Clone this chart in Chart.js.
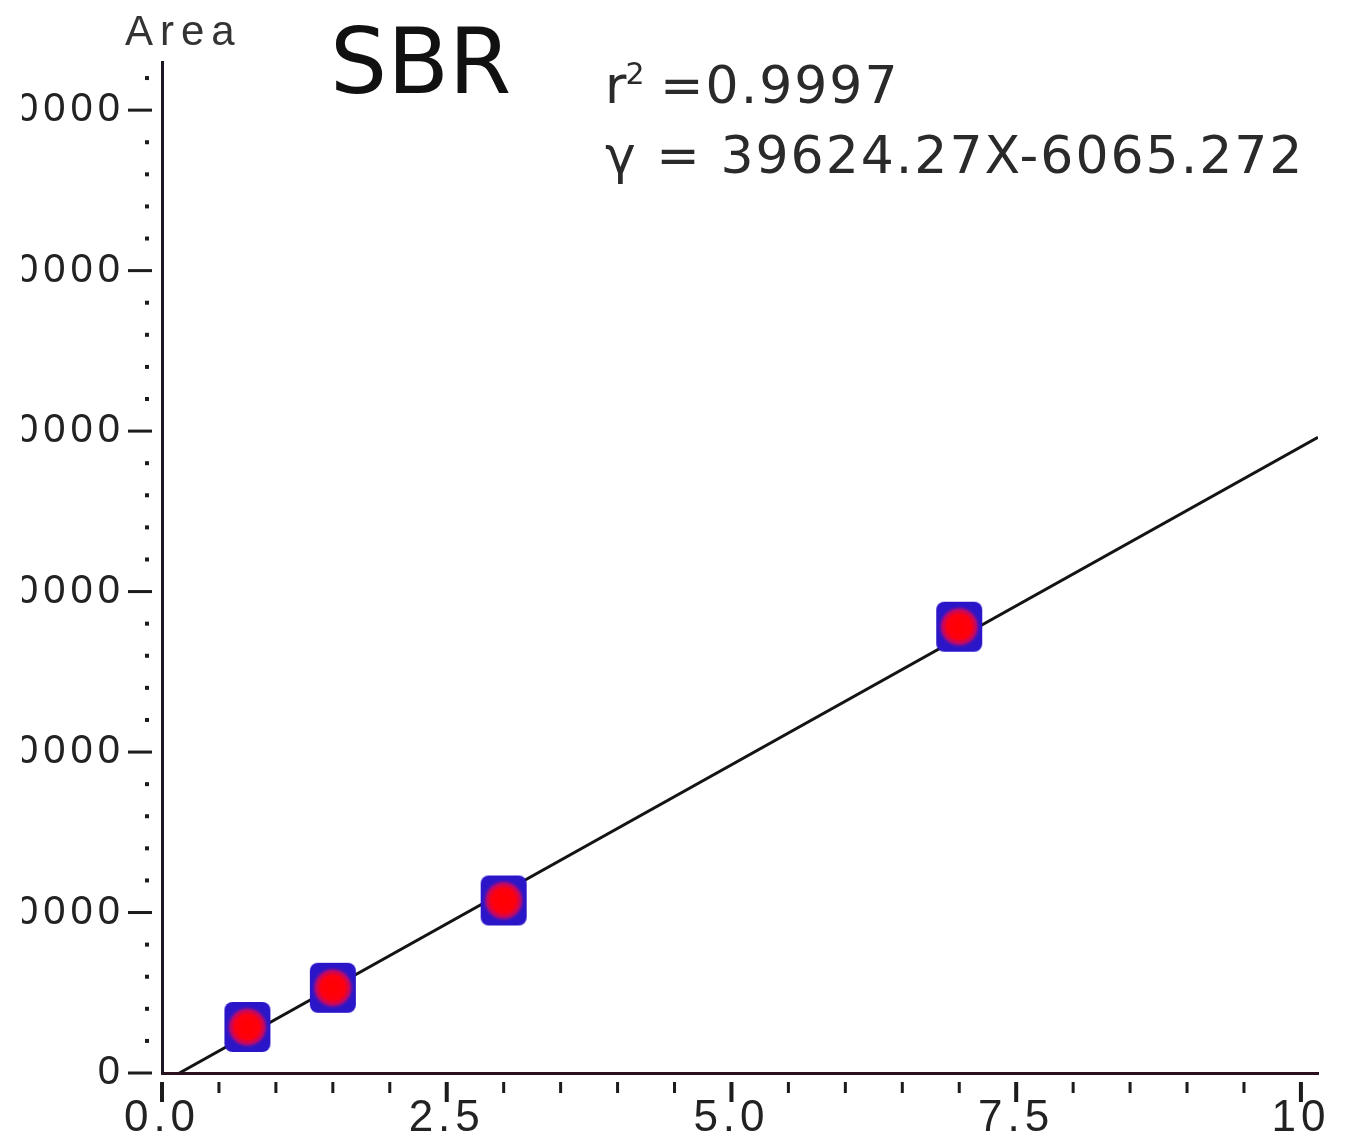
<!DOCTYPE html>
<html>
<head>
<meta charset="utf-8">
<script src="https://cdn.jsdelivr.net/npm/chart.js@4/dist/chart.umd.min.js"></script>
<style>
  html, body { margin: 0; padding: 0; background: #fff; overflow: hidden; }
  #frame { position: absolute; left: 22px; top: 0; width: 1323px; height: 1144px; overflow: hidden; }
  #wrap { position: absolute; left: -82px; top: 0; width: 1405px; height: 1144px; }
</style>
</head>
<body>
<div id="frame"><div id="wrap"><canvas id="chart" width="1405" height="1144"></canvas></div></div>
<script>
// Calibration standards: concentration vs. peak area
const concentrations = [0.75, 1.5, 3.0, 7.0];
const areas = [28700, 53100, 107500, 278100];

// Axis ticks
const xTickValues = [0, 2.5, 5, 7.5, 10];
const xTickLabels = ['0.0', '2.5', '5.0', '7.5', '10'];
const yTickValues = [0, 100000, 200000, 300000, 400000, 500000, 600000];
const xMinorStep = 0.5;
const yMinorStep = 20000;
const xRange = [0, 10.15];
const yRange = [0, 630000];

// Linear fit reported on the plot
const fitSlope = 39624.27;
const fitIntercept = -6065.272;
const rSquared = '0.9997';
const compoundName = 'SBR';
const yAxisName = 'Area';

// Fitted line runs from its zero crossing to the right end of the x range
const fitStart = -fitIntercept / fitSlope;
const fitPoints = [fitStart, xRange[1]].map(x => ({ x: x, y: fitSlope * x + fitIntercept }));

const standardPoints = concentrations.map((c, i) => ({ x: c, y: areas[i] }));

// Marker sprite: blue rounded square with a red dot in the middle
function makeMarker() {
  const w = 48, h = 52;
  const m = document.createElement('canvas');
  m.width = w; m.height = h;
  const g = m.getContext('2d');
  g.fillStyle = '#2a16c8';
  g.beginPath();
  g.roundRect(1, 1, w - 2, h - 2, 8);
  g.fill();
  const grad = g.createRadialGradient(w / 2, h / 2, 0, w / 2, h / 2, 22);
  grad.addColorStop(0, '#ff0000');
  grad.addColorStop(0.55, '#ff0010');
  grad.addColorStop(0.78, '#b80a70');
  grad.addColorStop(1, 'rgba(42,22,200,0)');
  g.fillStyle = grad;
  g.beginPath();
  g.ellipse(w / 2, h / 2, 22, 22, 0, 0, Math.PI * 2);
  g.fill();
  return m;
}
const marker = makeMarker();

// Wider spacing for the axis numbers
const tickSpacing = {
  id: 'tickSpacing',
  beforeDraw(chart) { chart.ctx.letterSpacing = '5px'; },
  afterDraw(chart) { chart.ctx.letterSpacing = '0px'; }
};

// Detached tick marks outside the axis lines
const tickMarks = {
  id: 'tickMarks',
  afterDraw(chart) {
    const ctx = chart.ctx;
    const xs = chart.scales.x, ys = chart.scales.y;
    ctx.save();
    ctx.fillStyle = '#1c1c1c';
    // y axis: dashes at major ticks, dots at minor ones
    const yAxisX = ys.right;
    for (let v = yRange[0]; v <= yRange[1]; v += yMinorStep) {
      const py = ys.getPixelForValue(v);
      if (yTickValues.includes(v)) {
        ctx.fillRect(yAxisX - 34, py - 1.5, 24, 3);
      } else {
        ctx.fillRect(yAxisX - 17, py - 2, 4, 4);
      }
    }
    // x axis: long marks at labelled ticks, short ones between
    const xAxisY = xs.top;
    for (let k = 0; k * xMinorStep <= xRange[1]; k++) {
      const v = k * xMinorStep;
      const px = xs.getPixelForValue(v);
      if (xTickValues.includes(v)) {
        ctx.fillRect(px - 2, xAxisY + 9, 4, 20);
      } else {
        ctx.fillRect(px - 1.5, xAxisY + 9, 3, 11);
      }
    }
    ctx.restore();
  }
};

// Title, axis name and fit summary
const annotations = {
  id: 'annotations',
  afterDraw(chart) {
    const ctx = chart.ctx;
    ctx.save();
    ctx.textAlign = 'left';
    ctx.textBaseline = 'alphabetic';

    ctx.fillStyle = '#333';
    ctx.font = '42px "Liberation Sans", Arial, sans-serif';
    ctx.letterSpacing = '7px';
    ctx.fillText(yAxisName, 185, 45);

    ctx.fillStyle = '#111';
    ctx.font = '90px "DejaVu Sans", sans-serif';
    ctx.letterSpacing = '0px';
    ctx.fillText(compoundName, 390, 93);

    ctx.fillStyle = '#2a2a2a';
    ctx.font = '52px "DejaVu Sans", sans-serif';
    ctx.letterSpacing = '2px';
    let x = 665;
    ctx.fillText('r', x, 103);
    x += ctx.measureText('r').width;
    ctx.font = '30px "DejaVu Sans", sans-serif';
    ctx.fillText('2', x - 3, 84);
    x += ctx.measureText('2').width;
    ctx.font = '52px "DejaVu Sans", sans-serif';
    ctx.fillText(' =' + rSquared, x - 8, 103);

    const eq = 'γ = ' + fitSlope.toFixed(2) + 'X' + fitIntercept.toFixed(3);
    ctx.fillText(eq, 665, 173);
    ctx.restore();
  }
};

new Chart(document.getElementById('chart'), {
  type: 'scatter',
  data: {
    datasets: [
      {
        label: 'Standards',
        data: standardPoints,
        pointStyle: marker,
        pointRadius: 24,
        pointHoverRadius: 24,
        order: 0
      },
      {
        label: 'Linear fit',
        type: 'line',
        data: fitPoints,
        borderColor: '#141414',
        borderWidth: 3,
        pointRadius: 0,
        fill: false,
        tension: 0,
        order: 1
      }
    ]
  },
  options: {
    responsive: false,
    animation: false,
    devicePixelRatio: 1,
    layout: { padding: { top: 62, right: 27, left: 0, bottom: 0 } },
    plugins: { legend: { display: false }, tooltip: { enabled: false } },
    scales: {
      x: {
        type: 'linear',
        min: xRange[0],
        max: xRange[1],
        afterBuildTicks: s => { s.ticks = xTickValues.map(v => ({ value: v })); },
        afterFit: s => { s.height = 71; },
        grid: { display: false, drawTicks: false },
        border: { display: true, color: '#2b0f20', width: 3 },
        ticks: {
          padding: 19,
          maxRotation: 0,
          autoSkip: false,
          color: '#222',
          font: { family: '"Liberation Sans", Arial, sans-serif', size: 44 },
          callback: (v) => xTickLabels[xTickValues.indexOf(v)]
        }
      },
      y: {
        type: 'linear',
        min: yRange[0],
        max: yRange[1],
        afterBuildTicks: s => { s.ticks = yTickValues.map(v => ({ value: v })); },
        afterFit: s => { s.width = 222; },
        grid: { display: false, drawTicks: false },
        border: { display: true, color: '#1b1622', width: 3 },
        ticks: {
          padding: 37,
          autoSkip: false,
          color: '#222',
          font: { family: '"Liberation Sans", Arial, sans-serif', size: 40 },
          callback: (v) => String(v)
        }
      }
    }
  },
  plugins: [tickSpacing, tickMarks, annotations]
});
</script>
</body>
</html>
